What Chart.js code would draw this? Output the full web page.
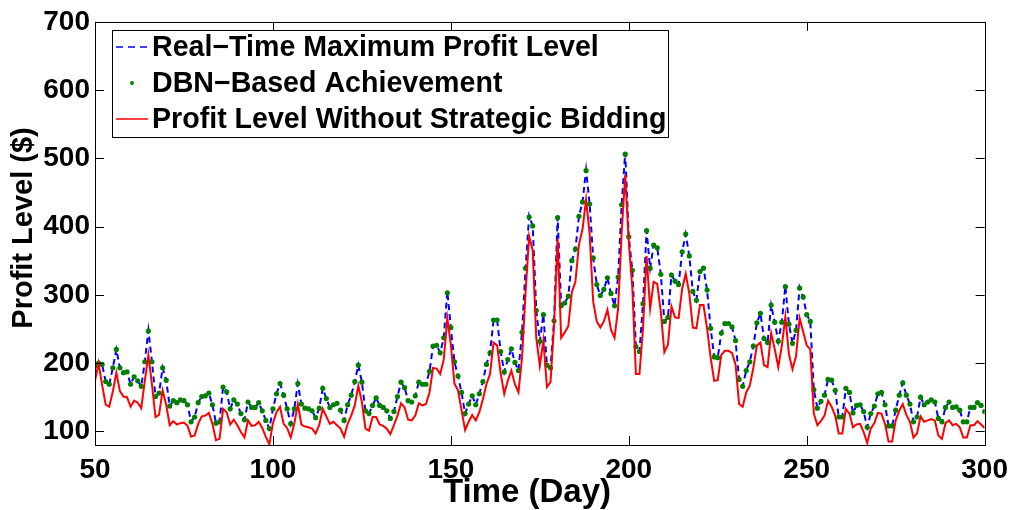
<!DOCTYPE html>
<html><head><meta charset="utf-8">
<script src="https://cdn.jsdelivr.net/npm/chart.js@4.4.1/dist/chart.umd.min.js"></script>
<style>html,body{margin:0;padding:0;background:#fff}canvas{display:block}</style>
</head><body>
<canvas id="c" width="1016" height="510"></canvas>
<script>
const firstDay = 50;
const xTicks = [50, 100, 150, 200, 250, 300];
const yTicks = [100, 200, 300, 400, 500, 600, 700];
const seriesNames = ["Real\u2212Time Maximum Profit Level", "DBN\u2212Based Achievement", "Profit Level Without Strategic Bidding"];
const xTitle = "Time (Day)";
const yTitle = "Profit Level ($)";

const maxProfit = [
196,200,198,173,169,193,220,193,186,187,
169,180,174,166,202,248,202,151,156,193,
175,137,145,142,146,145,139,114,121,142,
151,152,156,139,112,114,165,158,133,146,
140,126,117,143,135,135,142,130,116,104,
133,155,170,153,133,111,133,170,140,134,
133,130,120,134,163,148,135,139,141,131,
116,139,153,173,197,172,130,126,138,149,
138,135,130,119,129,151,172,164,145,143,
152,172,169,169,188,225,226,215,237,305,
252,202,181,157,126,140,152,139,155,173,
198,215,263,263,217,187,205,221,201,189,
245,339,416,401,277,232,271,197,193,262,
414,284,288,298,350,367,415,436,483,433,
354,315,299,308,325,302,284,326,432,508,
385,336,224,217,287,394,339,373,369,330,
261,267,329,320,315,363,389,357,305,292,
334,339,307,251,209,208,244,258,258,253,
233,176,166,189,202,225,259,273,236,230,
285,260,232,260,313,257,229,248,311,297,
271,261,161,134,144,153,176,175,160,121,
121,163,157,127,138,139,129,106,126,137,
155,157,139,108,108,131,153,171,153,140,
114,121,150,139,143,146,143,119,114,135,
143,135,136,131,114,114,135,135,142,138,
129];

const dbnAchieved = [
196,200,198,173,169,193,220,193,186,187,
169,180,174,166,202,247,202,151,156,193,
175,137,145,142,146,145,139,114,121,142,
151,152,156,139,112,114,165,158,133,146,
140,126,117,143,135,135,142,130,116,104,
133,155,170,153,133,111,133,170,140,134,
133,130,120,134,163,148,135,139,141,131,
116,139,153,173,197,172,130,126,138,149,
138,135,130,119,129,151,172,164,145,143,
152,172,169,169,188,225,226,215,237,303,
252,202,181,157,126,140,152,139,155,173,
198,215,263,263,217,187,205,221,201,189,
245,339,414,401,277,232,271,197,193,262,
413,284,288,298,350,367,415,436,482,433,
354,315,299,308,325,302,284,326,432,506,
385,336,224,217,287,394,339,373,369,330,
261,267,329,320,315,363,389,357,305,292,
334,339,307,251,209,208,244,258,258,253,
233,176,166,189,202,225,259,273,236,230,
285,260,232,260,312,257,229,248,310,297,
271,261,161,134,144,153,176,175,160,121,
121,163,157,127,138,139,129,106,126,137,
155,157,139,108,108,131,153,171,153,140,
114,121,150,139,143,146,143,119,114,135,
143,135,136,131,114,114,135,135,142,138,
129];

const noStrategy = [
174,200,168,139,136,158,186,159,151,150,
136,145,142,134,174,212,169,121,124,160,
139,109,115,110,112,113,108,92,94,111,
122,123,127,111,87,89,133,128,110,117,
109,99,91,116,108,109,114,105,92,81,
112,128,136,111,105,91,111,140,110,107,
106,104,97,109,133,122,111,114,109,104,
92,111,123,138,167,143,104,101,121,121,
110,108,104,96,109,123,141,135,117,116,
123,141,138,140,157,193,192,184,205,266,
227,170,160,131,102,114,124,116,128,147,
169,184,230,226,185,155,174,189,169,157,
208,304,386,365,237,196,233,165,172,255,
382,237,245,254,304,319,374,396,440,389,
290,261,252,261,278,249,237,280,391,476,
377,310,184,184,251,357,280,319,316,275,
216,227,283,267,266,309,331,302,252,251,
285,285,251,208,174,175,212,218,218,215,
198,140,136,157,167,193,226,230,197,194,
244,221,194,225,268,213,191,210,266,246,
226,220,126,109,115,123,145,136,123,97,
97,133,126,106,110,111,99,83,104,112,
127,126,111,85,85,116,130,140,124,114,
91,97,122,114,116,118,116,94,89,112,
116,109,111,106,91,91,109,109,115,110,
105];

const toPoints = arr => arr.map((v, i) => ({ x: firstDay + i, y: v }));
const FONT = '"Liberation Sans", Arial, Helvetica, sans-serif';

const framePlugin = {
  id: 'frame',
  afterDatasetsDraw(chart) {
    const ctx = chart.ctx;
    const a = chart.chartArea;
    const xs = chart.scales.x, ys = chart.scales.y;
    ctx.save();
    ctx.strokeStyle = '#000';
    ctx.lineWidth = 1;
    ctx.strokeRect(Math.round(a.left) + 0.5, Math.round(a.top) + 0.5, Math.round(a.right - a.left), Math.round(a.bottom - a.top));
    const tl = 9;
    ctx.beginPath();
    xTicks.forEach(v => {
      const px = Math.round(xs.getPixelForValue(v)) + 0.5;
      ctx.moveTo(px, a.bottom); ctx.lineTo(px, a.bottom - tl);
      ctx.moveTo(px, a.top); ctx.lineTo(px, a.top + tl);
    });
    yTicks.forEach(v => {
      const py = Math.round(ys.getPixelForValue(v)) + 0.5;
      ctx.moveTo(a.left, py); ctx.lineTo(a.left + tl, py);
      ctx.moveTo(a.right, py); ctx.lineTo(a.right - tl, py);
    });
    ctx.stroke();

    // axis titles
    ctx.fillStyle = '#000';
    ctx.textAlign = 'center';
    ctx.textBaseline = 'middle';
    ctx.font = 'bold 33px ' + FONT;
    ctx.fillText(xTitle, 527, 493);
    ctx.save();
    ctx.font = 'bold 29px ' + FONT;
    ctx.translate(24, 228);
    ctx.rotate(-Math.PI / 2);
    ctx.fillText(yTitle, 0, 0);
    ctx.restore();

    // legend
    const bx = 112, by = 30, bw = 556, bh = 107;
    ctx.fillStyle = '#fff';
    ctx.fillRect(bx, by, bw, bh);
    ctx.strokeStyle = '#000';
    ctx.lineWidth = 1;
    ctx.strokeRect(bx + 0.5, by + 0.5, bw, bh);
    const rows = [47, 83, 119];
    // blue dashed
    ctx.strokeStyle = '#0000ff';
    ctx.lineWidth = 1.5;
    ctx.setLineDash([7, 5]);
    ctx.beginPath(); ctx.moveTo(116, rows[0]); ctx.lineTo(148, rows[0]); ctx.stroke();
    ctx.setLineDash([]);
    // green dot
    ctx.fillStyle = '#008000';
    ctx.beginPath(); ctx.arc(132, rows[1], 2, 0, Math.PI * 2); ctx.fill();
    // red line
    ctx.strokeStyle = '#ff0000';
    ctx.lineWidth = 1.5;
    ctx.beginPath(); ctx.moveTo(116, rows[2]); ctx.lineTo(148, rows[2]); ctx.stroke();
    ctx.fillStyle = '#000';
    ctx.textAlign = 'left';
    ctx.font = 'bold 28.6px ' + FONT;
    seriesNames.forEach((n, i) => ctx.fillText(n, 152, rows[i] + 1));
    ctx.restore();
  }
};

new Chart(document.getElementById('c'), {
  type: 'line',
  data: {
    datasets: [
      { label: seriesNames[2], data: toPoints(noStrategy), borderColor: '#ff0000', borderWidth: 2, pointRadius: 0, fill: false, tension: 0, order: 0 },
      { label: seriesNames[1], data: toPoints(dbnAchieved), showLine: false, pointRadius: 2.6, pointBackgroundColor: '#008000', pointBorderColor: '#008000', pointBorderWidth: 0, order: 1 },
      { label: seriesNames[0], data: toPoints(maxProfit), borderColor: '#0000ff', borderWidth: 2, borderDash: [6, 4], pointRadius: 0, fill: false, tension: 0, order: 2 }
    ]
  },
  options: {
    responsive: false,
    animation: false,
    devicePixelRatio: 1,
    layout: { padding: { left: 0, right: 29, top: 17, bottom: 0 } },
    plugins: { legend: { display: false }, tooltip: { enabled: false } },
    scales: {
      x: {
        type: 'linear', min: 50, max: 300,
        afterBuildTicks: s => { s.ticks = xTicks.map(v => ({ value: v })); },
        afterFit: s => { s.height = 65; },
        grid: { display: false, drawTicks: false, tickLength: 0 }, border: { display: false },
        ticks: { color: '#000', font: { family: FONT, size: 28, weight: 'bold' }, padding: 8, maxRotation: 0, autoSkip: false }
      },
      y: {
        type: 'linear', min: 80, max: 700,
        afterBuildTicks: s => { s.ticks = yTicks.map(v => ({ value: v })); },
        afterFit: s => { s.width = 95; },
        grid: { display: false, drawTicks: false, tickLength: 0 }, border: { display: false },
        ticks: { color: '#000', font: { family: FONT, size: 28, weight: 'bold' }, padding: 5 }
      }
    }
  },
  plugins: [framePlugin]
});
</script>
</body></html>
